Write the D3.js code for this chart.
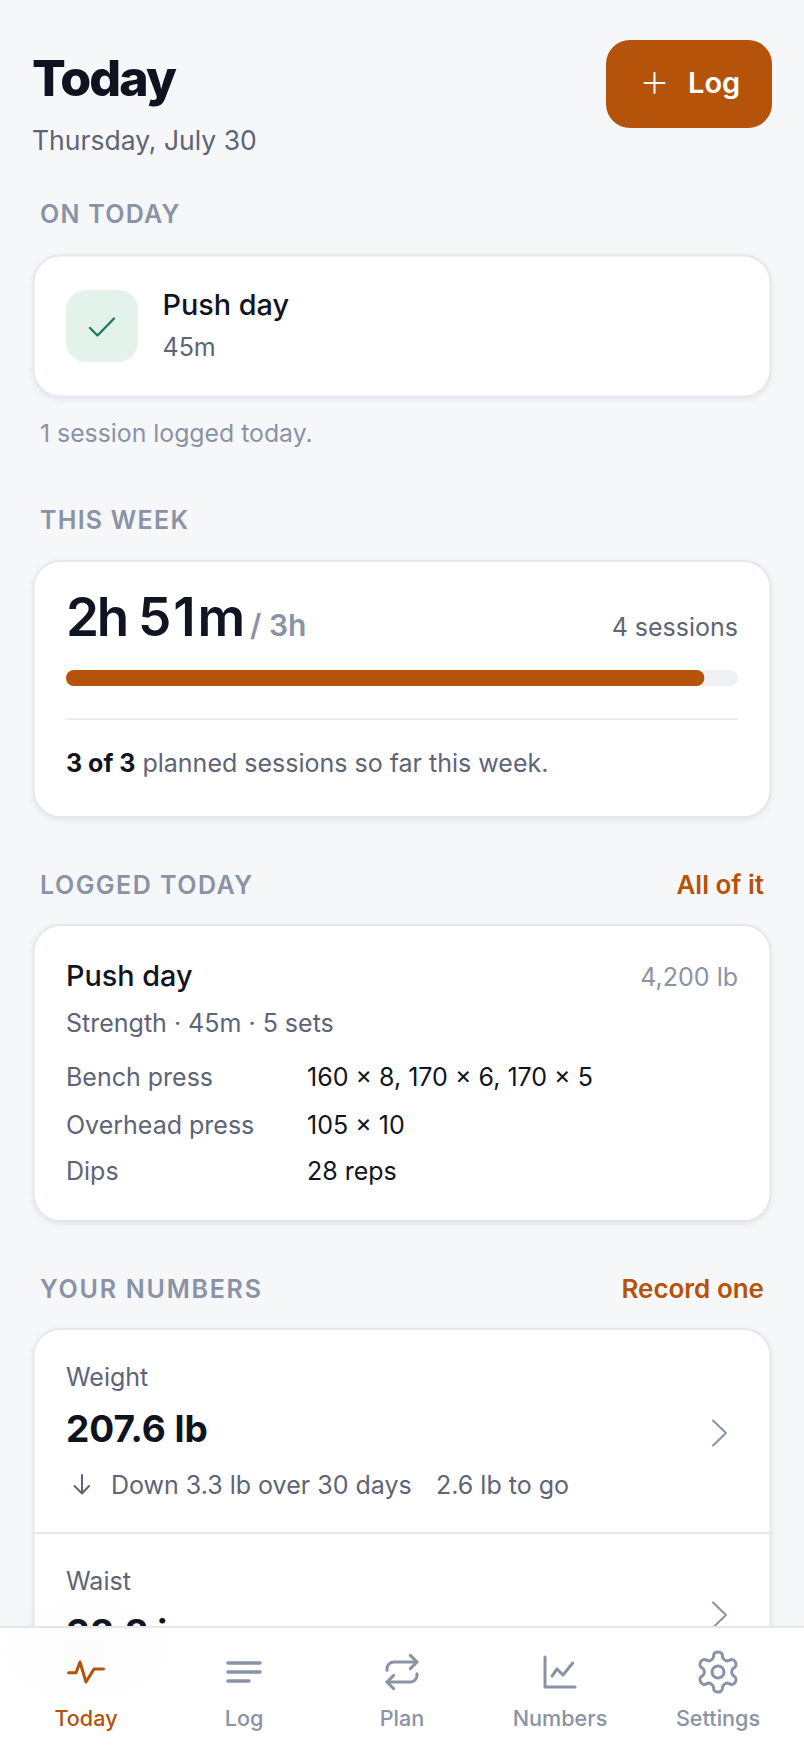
<!DOCTYPE html>
<html>
<head>
<meta charset="utf-8">
<style>
  html, body { margin: 0; padding: 0; background: #f6f7f9; overflow: hidden; }
  svg { display: block; font-family: Inter, "Noto Sans", sans-serif; }
</style>
</head>
<body>
<div id="app"></div>
<script src="https://cdn.jsdelivr.net/npm/d3@7"></script>
<script>
// values
var sectionNames = ["ON TODAY", "THIS WEEK", "LOGGED TODAY", "YOUR NUMBERS"];
var sectionLinks = ["", "", "All of it", "Record one"];
var weekDone = 171;   // minutes, 2h 51m
var weekGoal = 180;   // minutes, 3h
var exerciseNames = ["Bench press", "Overhead press", "Dips"];
var exerciseSets = ["160 × 8, 170 × 6, 170 × 5", "105 × 10", "28 reps"];
var metricNames = ["Weight", "Waist"];
var metricValues = ["207.6 lb", "38.8 in"];
var tabNames = ["Today", "Log", "Plan", "Numbers", "Settings"];

var W = 804, H = 1748;
var ACCENT = "#b45309", INK = "#111522", MUTED = "#5d6478", FAINT = "#8a93a6", LINE = "#e5e7ef";
var cardL = 33.5, cardR = 770.5, padL = 66, padR = 738;

var svg = d3.select("#app").append("svg").attr("width", W).attr("height", H);

var defs = svg.append("defs");
var shadow = defs.append("filter").attr("id", "cardShadow")
  .attr("x", "-5%").attr("y", "-10%").attr("width", "110%").attr("height", "125%");
shadow.append("feDropShadow").attr("dx", 0).attr("dy", 2).attr("stdDeviation", 2.5)
  .attr("flood-color", "#5d6478").attr("flood-opacity", 0.12);
var glow = defs.append("radialGradient").attr("id", "tabGlow");
glow.append("stop").attr("offset", "0%").attr("stop-color", "#8a93a6").attr("stop-opacity", 0.035);
glow.append("stop").attr("offset", "100%").attr("stop-color", "#8a93a6").attr("stop-opacity", 0);

function label(x, y, str, size, weight, color, anchor, spacing) {
  return svg.append("text")
    .attr("x", x).attr("y", y)
    .attr("text-anchor", anchor || "start")
    .style("font-size", size + "px")
    .style("font-weight", weight)
    .style("letter-spacing", spacing || "0")
    .attr("fill", color)
    .text(str);
}

function card(y, h) {
  svg.append("rect")
    .attr("x", cardL).attr("y", y).attr("width", cardR - cardL).attr("height", h)
    .attr("rx", 27)
    .attr("fill", "#fff").attr("stroke", LINE).attr("stroke-width", 2)
    .attr("filter", "url(#cardShadow)");
}

function stroke(d, color, width) {
  return svg.append("path").attr("d", d)
    .attr("fill", "none").attr("stroke", color).attr("stroke-width", width)
    .attr("stroke-linecap", "round").attr("stroke-linejoin", "round");
}

// header
label(32, 96, "Today", 50, 800, "#0f1320", "start", "-0.036em");
label(32, 150, "Thursday, July 30", 26.5, 400, MUTED);
svg.append("rect").attr("x", 606).attr("y", 40).attr("width", 166).attr("height", 88).attr("rx", 24).attr("fill", ACCENT);
stroke("M654.5 73V93M644.5 83H664.5", "#fff", 2);
label(688, 93, "Log", 29, 600, "#fff");

// section titles
var sectionY = d3.scaleOrdinal().domain(sectionNames).range([223, 529, 894, 1298]);
var sectionSpacing = d3.scaleOrdinal().domain(sectionNames).range(["0.05em", "0.05em", "0.06em", "0.07em"]);
sectionNames.forEach(function(name, i) {
  label(40, sectionY(name), name, 25, 600, FAINT, "start", sectionSpacing(name));
  if (sectionLinks[i]) label(764, sectionY(name), sectionLinks[i], 26, 600, ACCENT, "end");
});

// on today
card(255.5, 141);
svg.append("rect").attr("x", 66).attr("y", 290).attr("width", 72).attr("height", 72).attr("rx", 20).attr("fill", "#e3f3ec");
stroke("M90 328L97.5 335.5L114 318.5", "#1f7a5c", 2.4);
label(162.5, 315, "Push day", 28.8, 500, INK);
label(162.5, 356, "45m", 25, 400, MUTED);
label(40, 442, "1 session logged today.", 24.8, 400, FAINT);

// this week
card(561, 256);
var spent = label(66, 636, "", 53, 600, INK);
spent.append("tspan").style("letter-spacing", "-2.2px").text("2h");
spent.append("tspan").style("word-spacing", "-2.5px").text(" ");
spent.append("tspan").style("letter-spacing", "1.9px").text("51m");
label(250, 636, "/ 3h", 30, 600, FAINT);
label(padR, 636, "4 sessions", 25, 400, MUTED, "end");

var progress = d3.scaleLinear().domain([0, weekGoal]).range([padL, padR]);
svg.append("rect").attr("x", progress(0)).attr("y", 670)
  .attr("width", progress(weekGoal) - progress(0)).attr("height", 16).attr("rx", 8).attr("fill", "#eff0f3");
svg.append("rect").attr("x", progress(0)).attr("y", 670)
  .attr("width", progress(weekDone) - progress(0)).attr("height", 16).attr("rx", 8).attr("fill", ACCENT);
svg.append("line").attr("x1", padL).attr("x2", padR).attr("y1", 719).attr("y2", 719).attr("stroke", LINE).attr("stroke-width", 1.5);

var planned = label(66, 772, "", 25, 400, MUTED);
planned.append("tspan").style("font-weight", 700).attr("fill", INK).text("3 of 3");
planned.append("tspan").text(" planned sessions so far this week.");

// logged today
card(925, 296);
label(66, 986, "Push day", 28.8, 500, INK);
label(padR, 986, "4,200 lb", 25, 400, FAINT, "end");
label(66, 1032, "Strength · 45m · 5 sets", 25, 400, MUTED);

var rowY = d3.scaleOrdinal().domain(exerciseNames).range([1086, 1134, 1180]);
svg.selectAll(".ex-name").data(exerciseNames).enter().append("text")
  .attr("class", "ex-name")
  .attr("x", 66).attr("y", function(d) { return rowY(d); })
  .style("font-size", "25px").attr("fill", MUTED)
  .text(function(d) { return d; });
svg.selectAll(".ex-sets").data(exerciseSets).enter().append("text")
  .attr("class", "ex-sets")
  .attr("x", 307).attr("y", function(d, i) { return rowY(exerciseNames[i]); })
  .style("font-size", "25px").attr("fill", INK)
  .text(function(d) { return d; });

// your numbers
card(1329, 500);
var metricY = d3.scaleOrdinal().domain(metricNames).range([1386, 1590]);
var chevronY = d3.scaleOrdinal().domain(metricNames).range([1433, 1615]);
metricNames.forEach(function(name, i) {
  var y = metricY(name);
  label(66, y, name, 25, 400, MUTED);
  label(66, y + 56, metricValues[i], 37, 700, "#0f1320");
  stroke("M713 " + (chevronY(name) - 12.5) + "l13 12.5l-13 12.5", FAINT, 2);
});
stroke("M82 1475V1493.5M74.5 1486L82 1493.5L89 1486", MUTED, 2);
label(111, 1494, "Down 3.3 lb over 30 days", 25, 400, MUTED);
label(436, 1494, "2.6 lb to go", 25, 400, MUTED);
svg.append("line").attr("x1", cardL).attr("x2", cardR).attr("y1", 1533).attr("y2", 1533).attr("stroke", LINE).attr("stroke-width", 2);

// bottom tabs
svg.append("rect").attr("x", 0).attr("y", 1627).attr("width", W).attr("height", H - 1627).attr("fill", "#fff");
svg.append("line").attr("x1", 0).attr("x2", W).attr("y1", 1627).attr("y2", 1627).attr("stroke", LINE).attr("stroke-width", 2);

var tabX = d3.scaleBand().domain(tabNames).range([7, 797]);
var tabIcons = {
  Today: ["M1.5 12.4H6L8.4 6L12 18L16.8 10.2H22.5"],
  Log: ["M2.4 6.6H21.6", "M2.4 12H21.6", "M2.4 17.4H15"],
  Plan: ["m17 2 4 4-4 4", "M3 11v-1a4 4 0 0 1 4-4h14", "m7 22-4-4 4-4", "M21 13v1a4 4 0 0 1-4 4H3"],
  Numbers: ["M3 3v18h18", "M7.2 14.4L10.2 10.2L13.8 13.8L19.6 6.6"],
  Settings: ["M12.22 2h-.44a2 2 0 0 0-2 2v.18a2 2 0 0 1-1 1.73l-.43.25a2 2 0 0 1-2 0l-.15-.08a2 2 0 0 0-2.73.73l-.22.38a2 2 0 0 0 .73 2.73l.15.1a2 2 0 0 1 1 1.72v.51a2 2 0 0 1-1 1.74l-.15.09a2 2 0 0 0-.73 2.73l.22.38a2 2 0 0 0 2.73.73l.15-.08a2 2 0 0 1 2 0l.43.25a2 2 0 0 1 1 1.73V20a2 2 0 0 0 2 2h.44a2 2 0 0 0 2-2v-.18a2 2 0 0 1 1-1.73l.43-.25a2 2 0 0 1 2 0l.15.08a2 2 0 0 0 2.73-.73l.22-.39a2 2 0 0 0-.73-2.73l-.15-.08a2 2 0 0 1-1-1.74v-.5a2 2 0 0 1 1-1.74l.15-.09a2 2 0 0 0 .73-2.73l-.22-.38a2 2 0 0 0-2.73-.73l-.15.08a2 2 0 0 1-2 0l-.43-.25a2 2 0 0 1-1-1.73V4a2 2 0 0 0-2-2z", "M15 12a3 3 0 1 1-6 0a3 3 0 1 1 6 0z"]
};

svg.append("ellipse").attr("cx", tabX("Today") + tabX.bandwidth() / 2).attr("cy", 1650)
  .attr("rx", 100).attr("ry", 60).attr("fill", "url(#tabGlow)");

var tabs = svg.selectAll(".tab").data(tabNames).enter().append("g")
  .attr("class", "tab")
  .attr("transform", function(d) { return "translate(" + (tabX(d) + tabX.bandwidth() / 2) + ",0)"; });

tabs.append("g")
  .attr("transform", function(d) { return d == "Settings" ? "translate(-24,1648) scale(2)" : "translate(-20,1652) scale(1.667)"; })
  .selectAll("path").data(function(d) { return tabIcons[d].map(function(p) { return { p: p, tab: d }; }); })
  .enter().append("path")
  .attr("d", function(d) { return d.p; })
  .attr("fill", "none")
  .attr("stroke", function(d) { return d.tab == "Today" ? ACCENT : FAINT; })
  .attr("stroke-width", function(d) { return d.tab == "Settings" ? 1.5 : (d.tab == "Log" ? 2.1 : 1.8); })
  .attr("stroke-linecap", "round").attr("stroke-linejoin", "round");

tabs.append("text")
  .attr("y", 1726)
  .attr("text-anchor", "middle")
  .style("font-size", "21.6px")
  .style("font-weight", 500)
  .attr("fill", function(d) { return d == "Today" ? ACCENT : FAINT; })
  .text(function(d) { return d; });
</script>
</body>
</html>
